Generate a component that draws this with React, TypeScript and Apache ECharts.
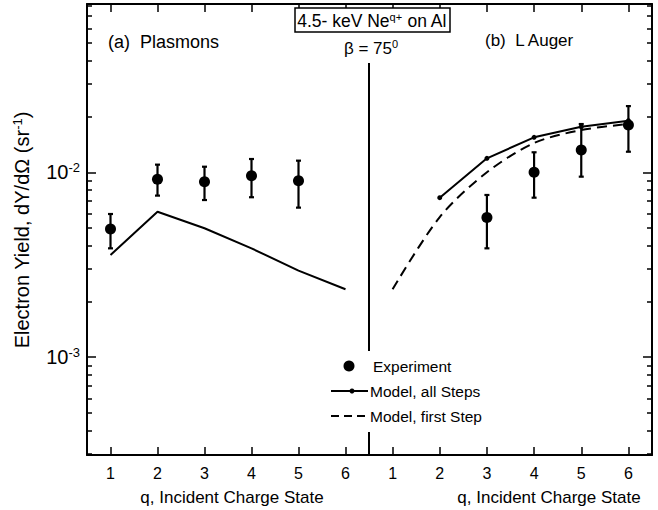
import React, { useEffect, useRef } from "react";
import * as echarts from "echarts";

// ---- data ----
const tickQ = [1, 2, 3, 4, 5, 6];
const yMajor = [1e-3, 1e-2];
const yMinor = [3e-4, 4e-4, 5e-4, 6e-4, 7e-4, 8e-4, 9e-4, 2e-3, 3e-3, 4e-3, 5e-3, 6e-3, 7e-3, 8e-3, 9e-3, 2e-2, 3e-2, 4e-2, 5e-2, 6e-2, 7e-2, 8e-2];

const plasmonExpQ = [1, 2, 3, 4, 5];
const plasmonExp = [0.00494, 0.00916, 0.0089, 0.00959, 0.00901];
const plasmonErrLow = [0.00388, 0.00748, 0.00708, 0.00733, 0.00644];
const plasmonErrHigh = [0.00595, 0.011, 0.01072, 0.0118, 0.01156];
const plasmonModelQ = [1, 2, 3, 4, 5, 6];
const plasmonModel = [0.00357, 0.00612, 0.00498, 0.00388, 0.00294, 0.00233];

const augerExpQ = [3, 4, 5, 6];
const augerExp = [0.00569, 0.01, 0.01319, 0.01802];
const augerErrLow = [0.00388, 0.00729, 0.00947, 0.01292];
const augerErrHigh = [0.00754, 0.01283, 0.01824, 0.0228];
const augerAllQ = [2, 3, 4, 5, 6];
const augerAll = [0.00729, 0.0119, 0.01546, 0.01763, 0.019];
const augerFirstQ = [1, 2, 3, 4, 5, 6];
const augerFirst = [0.00233, 0.00573, 0.01, 0.0144, 0.01693, 0.01824];

const Y_MIN = 2.96e-4;
const Y_MAX = 0.0813;

const FONT = "Liberation Sans, Arial, Helvetica, sans-serif";

const pairs = (xs: number[], ys: number[]) => xs.map((x, i) => [x, ys[i]]);
const triples = (xs: number[], lo: number[], hi: number[]) => xs.map((x, i) => [x, lo[i], hi[i]]);

const errRender = (params: any, api: any) => {
  const x = api.value(0);
  const p1 = api.coord([x, api.value(1)]);
  const p2 = api.coord([x, api.value(2)]);
  const st = { stroke: "#000", lineWidth: 2.2 };
  return {
    type: "group",
    children: [
      { type: "line", shape: { x1: p1[0], y1: p1[1], x2: p2[0], y2: p2[1] }, style: st },
      { type: "line", shape: { x1: p1[0] - 2.5, y1: p1[1], x2: p1[0] + 2.5, y2: p1[1] }, style: st },
      { type: "line", shape: { x1: p2[0] - 2.5, y1: p2[1], x2: p2[0] + 2.5, y2: p2[1] }, style: st },
    ],
  };
};

const mkRich = (base: number, sup: number, lift: number) => ({
  b: { fontSize: base, fontFamily: FONT, color: "#000", fill: "#000" },
  sup: { fontSize: sup, verticalAlign: "bottom", padding: [0, 0, lift, 0], fontFamily: FONT, color: "#000", fill: "#000" },
});

function makeXAxes(gridIndex: number) {
  return [
    {
      gridIndex,
      type: "value",
      position: "bottom",
      min: 0.5,
      max: 6.5,
      splitLine: { show: false },
      axisLine: { show: true, lineStyle: { color: "#000", width: 2 } },
      axisTick: { show: true, inside: true, length: 8, customValues: tickQ, lineStyle: { color: "#000", width: 1.5 } },
      axisLabel: { show: true, customValues: tickQ, margin: 10, fontSize: 16, color: "#000", fontFamily: FONT },
    },
    {
      gridIndex,
      type: "value",
      position: "top",
      min: 0.5,
      max: 6.5,
      splitLine: { show: false },
      axisLine: { show: true, lineStyle: { color: "#000", width: 2 } },
      axisTick: { show: true, inside: true, length: 8, customValues: tickQ, lineStyle: { color: "#000", width: 1.5 } },
      axisLabel: { show: false },
    },
  ];
}

function makeYAxes(gridIndex: number, position: string, showLabels: boolean) {
  return [
    {
      gridIndex,
      type: "log",
      logBase: 10,
      position,
      min: Y_MIN,
      max: Y_MAX,
      splitLine: { show: false },
      axisLine: { show: true, lineStyle: { color: "#000", width: 2 } },
      axisTick: { show: true, inside: true, length: 9, customValues: yMajor, lineStyle: { color: "#000", width: 1.5 } },
      axisLabel: {
        show: showLabels,
        customValues: yMajor,
        margin: 7,
        fontSize: 20,
        color: "#000",
        fontFamily: FONT,
        formatter: (v: number) => "{b|10}{sup|" + Math.round(Math.log10(v)) + "}",
        rich: mkRich(20, 13, 10),
      },
    },
    {
      gridIndex,
      type: "log",
      logBase: 10,
      position,
      min: Y_MIN,
      max: Y_MAX,
      splitLine: { show: false },
      axisLine: { show: false },
      axisTick: { show: true, inside: true, length: 5, customValues: yMinor, lineStyle: { color: "#000", width: 1.5 } },
      axisLabel: { show: false },
    },
  ];
}

export default function App() {
  const ref = useRef<HTMLDivElement>(null);
  useEffect(() => {
    if (!ref.current) return;
    const chart = echarts.init(ref.current, null, { renderer: "svg" });
    const txt = (x: number, y: number, text: string, size: number, align = "left", extra: any = {}) => ({
      type: "text",
      x,
      y,
      z: 21,
      ...extra,
      style: { text, align, verticalAlign: "middle", fontSize: size, fontFamily: FONT, fill: "#000", ...(extra.style || {}) },
    });
    const option: any = {
      animation: false,
      backgroundColor: "#fff",
      textStyle: { fontFamily: FONT, color: "#000" },
      grid: [
        { left: 87, top: 4, width: 282, height: 451 },
        { left: 369, top: 4, width: 283, height: 451 },
      ],
      xAxis: [...makeXAxes(0), ...makeXAxes(1)],
      yAxis: [...makeYAxes(0, "left", true), ...makeYAxes(1, "right", false)],
      series: [
        {
          type: "line",
          xAxisIndex: 0,
          yAxisIndex: 0,
          data: pairs(plasmonModelQ, plasmonModel),
          symbol: "none",
          lineStyle: { color: "#000", width: 2 },
        },
        {
          type: "custom",
          xAxisIndex: 0,
          yAxisIndex: 0,
          data: triples(plasmonExpQ, plasmonErrLow, plasmonErrHigh),
          renderItem: errRender,
          z: 3,
        },
        {
          type: "scatter",
          xAxisIndex: 0,
          yAxisIndex: 0,
          data: pairs(plasmonExpQ, plasmonExp),
          symbol: "circle",
          symbolSize: 11,
          itemStyle: { color: "#000", opacity: 1 },
          z: 4,
        },
        {
          type: "line",
          xAxisIndex: 2,
          yAxisIndex: 2,
          data: pairs(augerAllQ, augerAll),
          symbol: "circle",
          symbolSize: 5,
          itemStyle: { color: "#000", opacity: 1 },
          lineStyle: { color: "#000", width: 2 },
        },
        {
          type: "line",
          xAxisIndex: 2,
          yAxisIndex: 2,
          data: pairs(augerFirstQ, augerFirst),
          symbol: "none",
          smooth: 0.3,
          lineStyle: { color: "#000", width: 2, type: [10, 6] },
        },
        {
          type: "custom",
          xAxisIndex: 2,
          yAxisIndex: 2,
          data: triples(augerExpQ, augerErrLow, augerErrHigh),
          renderItem: errRender,
          z: 3,
        },
        {
          type: "scatter",
          xAxisIndex: 2,
          yAxisIndex: 2,
          data: pairs(augerExpQ, augerExp),
          symbol: "circle",
          symbolSize: 11,
          itemStyle: { color: "#000", opacity: 1 },
          z: 4,
        },
      ],
      graphic: [
        // divider between panels
        { type: "line", shape: { x1: 369, y1: 63, x2: 369, y2: 351 }, style: { stroke: "#000", lineWidth: 2 }, z: 10 },
        { type: "line", shape: { x1: 369, y1: 432, x2: 369, y2: 455 }, style: { stroke: "#000", lineWidth: 2 }, z: 10 },
        // title box
        { type: "rect", shape: { x: 295, y: 8, width: 155, height: 24 }, style: { fill: "#fff", stroke: "#000", lineWidth: 1.5 }, z: 20 },
        txt(372, 21, "{b|4.5- keV Ne}{sup|q+}{b| on Al}", 17.5, "center", { style: { rich: mkRich(17.5, 11, 8) } }),
        txt(371, 48, "{b|β = 75}{sup|0}", 17, "center", { style: { rich: mkRich(17, 11, 8) } }),
        txt(108, 42, "(a)  Plasmons", 18),
        txt(485, 40, "(b)  L Auger", 17),
        // axis titles
        txt(22, 230, "{b|Electron Yield, dY/dΩ (sr}{sup|-1}{b|)}", 20, "center", {
          rotation: Math.PI / 2,
          style: { rich: mkRich(20, 13, 10) },
        }),
        txt(232, 497, "q, Incident Charge State", 17, "center"),
        txt(549, 497, "q, Incident Charge State", 17, "center"),
        // legend
        { type: "circle", shape: { cx: 349, cy: 366, r: 5.5 }, style: { fill: "#000" }, z: 21 },
        txt(373, 366, "Experiment", 15.5),
        { type: "line", shape: { x1: 331, y1: 391, x2: 368, y2: 391 }, style: { stroke: "#000", lineWidth: 2 }, z: 21 },
        { type: "circle", shape: { cx: 352, cy: 391, r: 2.5 }, style: { fill: "#000" }, z: 21 },
        txt(370, 391, "Model, all Steps", 15.5),
        { type: "line", shape: { x1: 331, y1: 416, x2: 368, y2: 416 }, style: { stroke: "#000", lineWidth: 2, lineDash: [8, 5] }, z: 21 },
        txt(370, 416, "Model, first Step", 15.5),
      ],
    };
    chart.setOption(option);
    return () => chart.dispose();
  }, []);
  return (
    <div
      ref={ref}
      style={{ position: "fixed", left: 0, top: 0, width: 658, height: 510, background: "#fff" }}
    />
  );
}
